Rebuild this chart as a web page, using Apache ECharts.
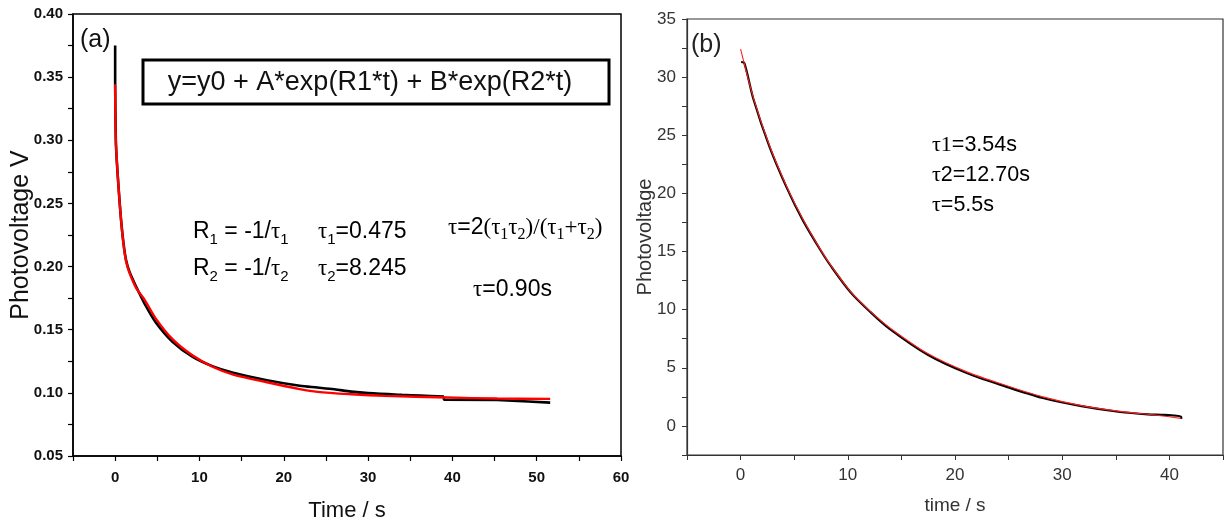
<!DOCTYPE html>
<html>
<head>
<meta charset="utf-8">
<script src="https://cdn.jsdelivr.net/npm/echarts@6/dist/echarts.min.js"></script>
<style>
html,body{margin:0;padding:0;background:#fff;}
#chart{width:1226px;height:528px;}
</style>
</head>
<body>
<div id="chart"></div>
<script>
// ---- Panel (a): time / s and photovoltage V ----
const tA_exp = [0, 0, 0.08, 0.2, 0.4, 0.7, 1.0, 1.3, 1.7, 2.5, 3.5, 4.8, 6.8, 9.2, 11.6, 14, 18, 21.9, 24, 26, 28, 30, 34, 36.2, 39, 39, 45.3, 45.3, 49, 49, 51.6];
const vA_exp = [0.375, 0.344, 0.30, 0.283, 0.263, 0.237, 0.218, 0.205, 0.196, 0.184, 0.1705, 0.156, 0.1405, 0.1285, 0.121, 0.116, 0.110, 0.1056, 0.1042, 0.1028, 0.1010, 0.0998, 0.0984, 0.0978, 0.0970, 0.0946, 0.0944, 0.0934, 0.0932, 0.0923, 0.0923];
const tA_fit = [0, 0.08, 0.4, 0.7, 1.0, 1.3, 1.7, 2.5, 3.5, 4.8, 6.8, 9.2, 11.6, 14, 18, 21.9, 24, 28, 32, 39.4, 45.3, 51.6];
const vA_fit = [0.344, 0.30, 0.263, 0.237, 0.217, 0.204, 0.195, 0.183, 0.1737, 0.159, 0.1425, 0.1295, 0.1205, 0.1145, 0.1084, 0.103, 0.1008, 0.0989, 0.0976, 0.0963, 0.0955, 0.0952];
const stepStartA = 24; // index where the quantised tail of the measured curve begins

// ---- Panel (b) ----
const tB_exp = [0.05, 0.35, 1.2, 2.7, 4.3, 5.8, 7.4, 8.5, 10.3, 12.1, 13.9, 17.5, 21.1, 24.7, 28.2, 31.8, 35.4, 38, 39.5, 41.1, 41.1];
const vB_exp = [31.3, 31.2, 28.1, 24.0, 20.5, 17.7, 15.2, 13.65, 11.45, 9.8, 8.35, 6.1, 4.55, 3.4, 2.4, 1.7, 1.2, 1.0, 0.95, 0.8, 0.6];
const tB_fit = [0, 1.2, 2.7, 4.3, 5.8, 7.4, 8.5, 10.3, 12.1, 13.9, 17.5, 21.1, 24.7, 28.2, 31.8, 35.4, 39, 41.1];
const vB_fit = [32.4, 28.2, 24.1, 20.6, 17.8, 15.25, 13.7, 11.5, 9.85, 8.45, 6.2, 4.65, 3.5, 2.5, 1.75, 1.25, 0.9, 0.65];

// axis settings
const xA = {min: -5, max: 60, interval: 5, labelEvery: 10, name: 'Time / s'};
const yA = {min: 0.05, max: 0.40, interval: 0.025, labelEvery: 0.05, name: 'Photovoltage V'};
const xB = {min: -5, max: 45, interval: 5, labelEvery: 10, name: 'time / s'};
const yB = {min: -2.5, max: 35, interval: 2.5, labelEvery: 5, name: 'Photovoltage'};

// annotation texts
const eqText = 'y=y0 + A*exp(R1*t) + B*exp(R2*t)';
const labelA = '(a)';
const labelB = '(b)';

const zip = (t, v) => t.map((x, i) => [x, v[i]]);
const SANS = "'Liberation Sans', Arial, sans-serif";
const SERIF = "'Liberation Serif', 'Times New Roman', serif";

function isMult(v, step) {
  const r = v / step;
  return Math.abs(r - Math.round(r)) < 1e-6;
}

const chart = echarts.init(document.getElementById('chart'), null, {renderer: 'canvas'});

const axA_common = {
  axisLine: {show: true, onZero: false, lineStyle: {color: '#000', width: 1.5}},
  axisTick: {show: true, inside: false, length: 5, lineStyle: {color: '#000', width: 1.2}},
  splitLine: {show: false},
  nameMoveOverlap: false
};
const axB_common = {
  axisLine: {show: true, onZero: false, lineStyle: {color: '#333', width: 1.2}},
  axisTick: {show: true, inside: false, length: 5, lineStyle: {color: '#333', width: 1}},
  splitLine: {show: false},
  nameMoveOverlap: false
};

const richA = {
  s: {fontFamily: SANS, fontSize: 23, lineHeight: 30, color: '#111'},
  t: {fontFamily: SERIF, fontSize: 23, lineHeight: 30, color: '#111'},
  sb: {fontFamily: SANS, fontSize: 15, lineHeight: 15, verticalAlign: 'bottom', color: '#111'},
  tsb: {fontFamily: SERIF, fontSize: 16, lineHeight: 15, verticalAlign: 'bottom', color: '#111'}
};
const richB = {
  s: {fontFamily: SANS, fontSize: 21.5, lineHeight: 26, color: '#222'},
  t: {fontFamily: SERIF, fontSize: 22, lineHeight: 26, color: '#222'}
};

function rtext(x, y, text, rich) {
  return {
    type: 'text', x: x, y: y, z: 100,
    style: {text: text, rich: rich, align: 'left', verticalAlign: 'middle', textAlign: 'left', textVerticalAlign: 'middle'}
  };
}

const expA = zip(tA_exp, vA_exp);
const blackLineA = {color: '#000', width: 2.6};

const option = {
  backgroundColor: '#fff',
  animation: false,
  grid: [
    {left: 73, top: 14, width: 548, height: 442, show: true, borderColor: '#000', borderWidth: 1.5, backgroundColor: 'transparent'},
    {left: 687, top: 19, width: 537, height: 436, show: true, borderColor: '#333', borderWidth: 1.2, backgroundColor: 'transparent'}
  ],
  xAxis: [
    Object.assign({}, axA_common, {
      gridIndex: 0, type: 'value', min: xA.min, max: xA.max, interval: xA.interval,
      name: xA.name, nameLocation: 'middle', nameGap: 44,
      nameTextStyle: {fontFamily: SANS, fontSize: 22, color: '#111'},
      axisLabel: {fontFamily: SANS, fontSize: 15, fontWeight: 'bold', color: '#111', margin: 14,
        formatter: v => isMult(v, xA.labelEvery) ? String(v) : ''}
    }),
    Object.assign({}, axB_common, {
      gridIndex: 1, type: 'value', min: xB.min, max: xB.max, interval: xB.interval,
      name: xB.name, nameLocation: 'middle', nameGap: 41,
      nameTextStyle: {fontFamily: SANS, fontSize: 19, color: '#333'},
      axisLabel: {fontFamily: SANS, fontSize: 17, color: '#333', margin: 12,
        formatter: v => isMult(v, xB.labelEvery) ? String(v) : ''}
    })
  ],
  yAxis: [
    Object.assign({}, axA_common, {
      gridIndex: 0, type: 'value', min: yA.min, max: yA.max, interval: yA.interval,
      name: yA.name, nameLocation: 'middle', nameGap: 39,
      nameTextStyle: {fontFamily: SANS, fontSize: 25, color: '#111'},
      axisLabel: {fontFamily: SANS, fontSize: 15, fontWeight: 'bold', color: '#111', margin: 10,
        formatter: v => isMult(v, yA.labelEvery) ? v.toFixed(2) : ''}
    }),
    Object.assign({}, axB_common, {
      gridIndex: 1, type: 'value', min: yB.min, max: yB.max, interval: yB.interval,
      name: yB.name, nameLocation: 'middle', nameGap: 32,
      nameTextStyle: {fontFamily: SANS, fontSize: 20, color: '#333'},
      axisLabel: {fontFamily: SANS, fontSize: 17, color: '#333', margin: 11,
        formatter: v => isMult(v, yB.labelEvery) ? String(v) : ''}
    })
  ],
  series: [
    {type: 'line', xAxisIndex: 0, yAxisIndex: 0, data: expA.slice(0, 2), showSymbol: false, symbol: 'none',
      lineStyle: blackLineA, z: 2},
    {type: 'line', xAxisIndex: 0, yAxisIndex: 0, data: expA.slice(1, stepStartA + 1), showSymbol: false, symbol: 'none',
      smooth: 0.3, lineStyle: blackLineA, z: 2},
    {type: 'line', xAxisIndex: 0, yAxisIndex: 0, data: expA.slice(stepStartA), showSymbol: false, symbol: 'none',
      lineStyle: blackLineA, z: 2},
    {type: 'line', xAxisIndex: 0, yAxisIndex: 0, data: zip(tA_fit, vA_fit), showSymbol: false, symbol: 'none',
      smooth: 0.3, lineStyle: {color: '#ff0000', width: 2.4}, z: 3},
    {type: 'line', xAxisIndex: 1, yAxisIndex: 1, data: zip(tB_exp, vB_exp), showSymbol: false, symbol: 'none',
      smooth: 0.3, lineStyle: {color: '#000', width: 2.2}, z: 2},
    {type: 'line', xAxisIndex: 1, yAxisIndex: 1, data: zip(tB_fit, vB_fit), showSymbol: false, symbol: 'none',
      smooth: 0.3, lineStyle: {color: '#ff2020', width: 1.1}, z: 3}
  ],
  graphic: [
    {type: 'rect', z: 100, shape: {x: 143, y: 60, width: 466, height: 44},
      style: {fill: 'none', stroke: '#000', lineWidth: 3}},
    {type: 'text', x: 370, y: 83, z: 100,
      style: {text: eqText, font: "27px " + SANS, fill: '#111', align: 'center', verticalAlign: 'middle', textAlign: 'center', textVerticalAlign: 'middle'}},
    {type: 'text', x: 80, y: 40, z: 100,
      style: {text: labelA, font: "25px " + SANS, fill: '#111', align: 'left', verticalAlign: 'middle', textAlign: 'left', textVerticalAlign: 'middle'}},
    {type: 'text', x: 691, y: 45, z: 100,
      style: {text: labelB, font: "25px " + SANS, fill: '#222', align: 'left', verticalAlign: 'middle', textAlign: 'left', textVerticalAlign: 'middle'}},
    rtext(193, 232, '{s|R}{sb|1}{s| = -1/}{t|τ}{sb|1}', richA),
    rtext(318, 232, '{t|τ}{sb|1}{s|=0.475}', richA),
    rtext(193, 269, '{s|R}{sb|2}{s| = -1/}{t|τ}{sb|2}', richA),
    rtext(318, 269, '{t|τ}{sb|2}{s|=8.245}', richA),
    rtext(448, 228, '{t|τ}{s|=2}{t|(τ}{tsb|1}{t|τ}{tsb|2}{t|)/(τ}{tsb|1}{t|+τ}{tsb|2}{t|)}', richA),
    rtext(473, 290, '{t|τ}{s|=0.90s}', richA),
    rtext(932, 145, '{t|τ1}{s|=3.54s}', richB),
    rtext(932, 175, '{t|τ}{s|2=12.70s}', richB),
    rtext(932, 205, '{t|τ}{s|=5.5s}', richB)
  ]
};
chart.setOption(option);
</script>
</body>
</html>
